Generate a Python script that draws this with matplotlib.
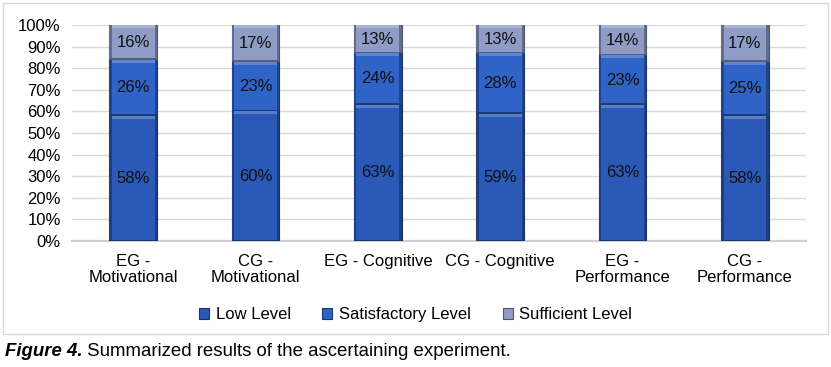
import numpy as np
import matplotlib.pyplot as plt
from matplotlib.patches import Rectangle
from matplotlib.colors import to_rgb

plt.rcParams['font.family'] = ['Liberation Sans', 'DejaVu Sans']

categories = ['EG -\nMotivational', 'CG -\nMotivational', 'EG - Cognitive',
              'CG - Cognitive', 'EG -\nPerformance', 'CG -\nPerformance']
low = [58, 60, 63, 59, 63, 58]
satisfactory = [26, 23, 24, 28, 23, 25]
sufficient = [16, 17, 13, 13, 14, 17]
series_names = ['Low Level', 'Satisfactory Level', 'Sufficient Level']
colors = ['#2A59B8', '#2F63C6', '#8E9CC6']


def shade(c, f):
    r = np.array(to_rgb(c))
    if f < 0:
        return tuple(r * (1 + f))
    return tuple(r + (1 - r) * f)


def bevel(ax, b, c):
    # rough imitation of the excel bevel look
    x0, y0 = b.get_x(), b.get_y()
    w, h = b.get_width(), b.get_height()
    px = w / 48.0
    py = 100 / 216.0
    ax.add_patch(Rectangle((x0, y0), 2.5 * px, h, color=shade(c, -0.3), zorder=3.1, lw=0))
    ax.add_patch(Rectangle((x0 + w - 2.5 * px, y0), 2.5 * px, h, color=shade(c, -0.3), zorder=3.1, lw=0))
    ax.add_patch(Rectangle((x0 + 2.5 * px, y0 + h - 3 * py), w - 5 * px, 3 * py,
                           color=shade(c, 0.22), zorder=3.2, lw=0))
    ax.add_patch(Rectangle((x0, y0), w, 1.5 * py, color=shade(c, -0.4), zorder=3.2, lw=0))


fig = plt.figure(figsize=(8.31, 3.67), dpi=100)
ax = fig.add_axes([0.0866, 0.3433, 0.8834, 0.5886])

x = np.arange(len(categories))
bottom = np.zeros(len(categories))
for vals, name, c in zip([low, satisfactory, sufficient], series_names, colors):
    bars = ax.bar(x, vals, bottom=bottom, width=0.39, color=c, edgecolor=shade(c, -0.45),
                  linewidth=0.8, label=name, zorder=3)
    for b, v, bt in zip(bars, vals, bottom):
        bevel(ax, b, c)
        ax.text(b.get_x() + b.get_width() / 2, bt + v / 2, f'{v}%', ha='center',
                va='center', fontsize=12, color='#111111', zorder=4)
    bottom += np.array(vals)

ax.set_ylim(0, 100)
ax.set_xlim(-0.5, len(categories) - 0.5)
ax.set_yticks(range(0, 101, 10))
ax.set_yticklabels([f'{t}%' for t in range(0, 101, 10)], fontsize=12)
ax.set_xticks(x)
ax.set_xticklabels(categories, fontsize=12, linespacing=1.1)
ax.tick_params(axis='x', length=0, pad=9)
ax.tick_params(axis='y', length=0, pad=8)
ax.yaxis.grid(True, color='#D9D9D9', linewidth=1, zorder=0)
for s in ['top', 'right', 'left']:
    ax.spines[s].set_visible(False)
ax.spines['bottom'].set_color('#D0D0D0')
ax.spines['bottom'].set_linewidth(1.6)

leg = fig.legend(loc='center', bbox_to_anchor=(0.5, 0.142), ncol=3, frameon=False,
                 fontsize=12, handlelength=0.6, handleheight=0.6,
                 handletextpad=0.4, columnspacing=1.9)

# chart frame
fig.patches.append(Rectangle((3 / 831, 1 - 334 / 367), 825 / 831, 331 / 367,
                             transform=fig.transFigure, fill=False,
                             edgecolor='#D9D9D9', linewidth=1))

t1 = fig.text(0.006, 0.041, 'Figure 4.', fontsize=13.4, fontweight='bold',
              fontstyle='italic', va='center')
fig.canvas.draw()
bb = t1.get_window_extent().transformed(fig.transFigure.inverted())
fig.text(bb.x1, 0.041, ' Summarized results of the ascertaining experiment.',
         fontsize=13.4, va='center')

fig.savefig('out.png', dpi=100)
